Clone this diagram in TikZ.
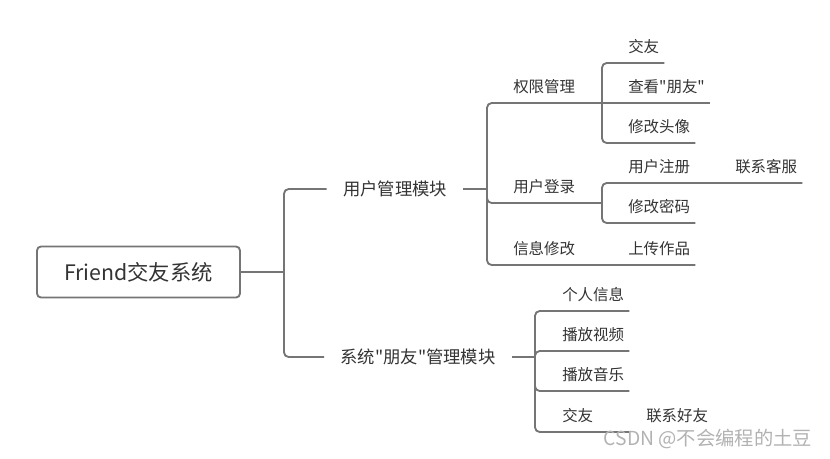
\documentclass[tikz,border=0pt]{standalone}
\usepackage{fontspec}
\newfontfamily\cjk{Noto Sans CJK SC}
\definecolor{ln}{HTML}{757575}
\definecolor{txt}{HTML}{333333}
\tikzset{
	branch/.style={draw=ln,line width=1.4pt,rounded corners=3.5pt},
	root/.style={draw=ln,line width=1.4pt,rounded corners=3pt,minimum width=152.25pt,minimum height=38.25pt,inner sep=0pt,text height=14pt,text depth=2pt,text=txt,font=\cjk\fontsize{16}{19}\selectfont},
	topic/.style={inner xsep=12pt,inner ysep=0pt,text height=11.4pt,text depth=1.6pt,text=txt,font=\cjk\fontsize{13}{16}\selectfont},
	leaf/.style={anchor=south west,inner xsep=3.75pt,inner ysep=0pt,minimum height=24pt,text height=10.1pt,text depth=1.5pt,text=txt,font=\cjk\fontsize{11.6}{14}\selectfont},
}
\begin{document}
\begin{tikzpicture}[x=0.75pt,y=-0.75pt]
	\useasboundingbox (0,0) rectangle (830,458);
	\node[root] (fr) at (138.5,272) {Friend交友系统};
	\node[topic] (um) at (395,189) {用户管理模块};
	\node[topic] (sys) at (418,357) {系统"朋友"管理模块};
	\node[leaf] (qx) at (508,103) {权限管理};
	\node[leaf] (dl) at (508,203) {用户登录};
	\node[leaf] (xx) at (508,265) {信息修改};
	\node[leaf] (jy) at (623,63) {交友};
	\node[leaf] (ck) at (623,103) {查看"朋友"};
	\node[leaf] (tx) at (623,143) {修改头像};
	\node[leaf] (zc) at (623,183) {用户注册};
	\node[leaf] (kf) at (730,183) {联系客服};
	\node[leaf] (mm) at (623,223) {修改密码};
	\node[leaf] (zp) at (623,265) {上传作品};
	\node[leaf] (gr) at (557,311) {个人信息};
	\node[leaf] (sp) at (557,351) {播放视频};
	\node[leaf] (yy) at (557,391) {播放音乐};
	\node[leaf] (jy2) at (557,432) {交友};
	\node[leaf] (hy) at (641,432) {联系好友};
	\coordinate (j0) at (284,272);
	\coordinate (j1) at (487,189);
	\coordinate (j2) at (602,103);
	\coordinate (j3) at (602,203);
	\coordinate (j4) at (535,357);
	\draw[branch] (fr.east) -- (j0);
	\draw[branch] (j0) |- (um.west);
	\draw[branch] (j0) |- (sys.west);
	\draw[branch] (um.east) -- (j1);
	\draw[branch] (j1) |- (j2);
	\draw[branch] (j1) |- (j3);
	\draw[branch] (j1) |- (zp.south east);
	\draw[branch] (j2) |- (jy.south east);
	\draw[branch] (j2) -- (ck.south east);
	\draw[branch] (j2) |- (tx.south east);
	\draw[branch] (j3) |- (kf.south east);
	\draw[branch] (j3) |- (mm.south east);
	\draw[branch] (sys.east) -- (j4);
	\draw[branch] (j4) |- (gr.south east);
	\draw[branch] (j4) |- (sp.south east);
	\draw[branch] (j4) |- (yy.south east);
	\draw[branch] (j4) |- (jy2.south -| yy.south east);
	\node[text=black!30,font=\cjk\fontsize{14.5}{17}\selectfont] (wm) at (708,439) {CSDN @不会编程的土豆};
\end{tikzpicture}
\end{document}
